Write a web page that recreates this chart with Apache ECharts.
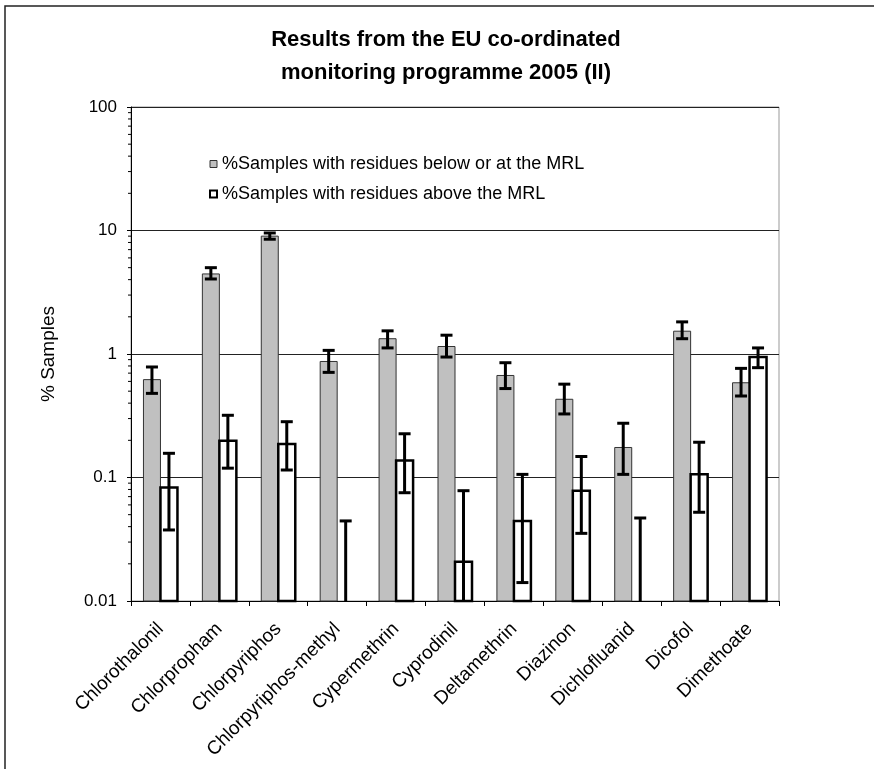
<!DOCTYPE html>
<html>
<head>
<meta charset="utf-8">
<script src="https://cdn.jsdelivr.net/npm/echarts@6/dist/echarts.min.js"></script>
<style>html,body{margin:0;padding:0;background:#fff}#c{width:874px;height:769px}</style>
</head>
<body>
<div id="c"></div>
<script>
var categories = ['Chlorothalonil','Chlorpropham','Chlorpyriphos','Chlorpyriphos-methyl','Cypermethrin','Cyprodinil','Deltamethrin','Diazinon','Dichlofluanid','Dicofol','Dimethoate'];
var seriesNames = ['%Samples with residues below or at the MRL', '%Samples with residues above the MRL'];
var belowMRL     = [0.62, 4.45, 9.0, 0.87, 1.33, 1.15, 0.67, 0.43, 0.175, 1.53, 0.585];
var belowMRLHigh = [0.785, 5.0, 9.55, 1.07, 1.54, 1.42, 0.85, 0.57, 0.275, 1.82, 0.765];
var belowMRLLow  = [0.48, 4.05, 8.5, 0.71, 1.12, 0.945, 0.525, 0.327, 0.106, 1.33, 0.457];
var aboveMRL     = [0.083, 0.198, 0.187, 0, 0.137, 0.0208, 0.0445, 0.078, 0, 0.106, 0.946];
var aboveMRLHigh = [0.157, 0.319, 0.283, 0.0445, 0.226, 0.0782, 0.106, 0.148, 0.047, 0.193, 1.12];
var aboveMRLLow  = [0.0376, 0.119, 0.115, 0, 0.0753, 0, 0.0141, 0.0353, 0, 0.0523, 0.775];
var yTicks = [0.01, 0.1, 1, 10, 100];
var minorTickMultipliers = [2, 3, 4, 5, 6, 7, 8, 9];

var BAR_W = 17;
var FONT = 'Arial, "Liberation Sans", sans-serif';
var chart = echarts.init(document.getElementById('c'), null, {renderer: 'canvas'});

function errData(low, high) {
  return categories.map(function (c, i) { return [i, low[i], high[i]]; });
}
function barData(vals) {
  return categories.map(function (c, i) { return [i, vals[i]]; });
}
function makeBar(offsetSign, style) {
  return function (params, api) {
    var idx = api.value(0);
    var v = api.value(1);
    if (!(v > yTicks[0])) return null;
    var top = api.coord([idx, v]);
    var base = api.coord([idx, yTicks[0]]);
    var cx = top[0] + offsetSign * BAR_W / 2;
    return {type: 'rect', shape: {x: cx - BAR_W / 2, y: top[1], width: BAR_W, height: base[1] - top[1]}, style: style};
  };
}
function makeErr(offsetSign) {
  return function (params, api) {
    var idx = api.value(0);
    var lo = api.value(1);
    var hi = api.value(2);
    var yMin = yTicks[0];
    var off = offsetSign * BAR_W / 2;
    var pHi = api.coord([idx, hi]);
    var loClamped = lo > yMin ? lo : yMin;
    var pLo = api.coord([idx, loClamped]);
    var x = pHi[0] + off;
    var cap = 6;
    var style = {stroke: '#000', lineWidth: 3};
    var children = [
      {type: 'line', shape: {x1: x, y1: pHi[1], x2: x, y2: pLo[1]}, style: style},
      {type: 'line', shape: {x1: x - cap, y1: pHi[1], x2: x + cap, y2: pHi[1]}, style: style}
    ];
    if (lo > yMin) {
      children.push({type: 'line', shape: {x1: x - cap, y1: pLo[1], x2: x + cap, y2: pLo[1]}, style: style});
    }
    return {type: 'group', children: children};
  };
}
function minorTickData() {
  var out = [];
  for (var i = 0; i < yTicks.length - 1; i++) {
    for (var j = 0; j < minorTickMultipliers.length; j++) out.push([0, yTicks[i] * minorTickMultipliers[j]]);
  }
  return out;
}
function renderMinorTick(params, api) {
  var p = api.coord([0, api.value(1)]);
  var half = api.size([1, 0])[0] / 2;
  var x = p[0] - half;
  return {type: 'line', shape: {x1: x - 3, y1: p[1], x2: x, y2: p[1]}, style: {stroke: '#000', lineWidth: 1}};
}

var grayStyle = {fill: '#c0c0c0', stroke: '#333', lineWidth: 1};
var whiteStyle = {fill: '#fff', stroke: '#000', lineWidth: 2.5};

var option = {
  animation: false,
  backgroundColor: '#fff',
  textStyle: {fontFamily: FONT},
  grid: {left: 131, right: 95, top: 107, bottom: 168, show: true, borderColor: '#999', borderWidth: 1},
  graphic: [
    {type: 'rect', z: -10, shape: {x: 5, y: 6, width: 900, height: 800}, style: {fill: 'none', stroke: '#222', lineWidth: 1.5}},
    {type: 'text', x: 446, y: 23, style: {text: 'Results from the EU co-ordinated\nmonitoring programme 2005 (II)', textAlign: 'center', font: 'bold 22px ' + FONT, lineHeight: 33, fill: '#000'}}
  ],
  legend: {
    orient: 'vertical', left: 204, top: 150, itemWidth: 7, itemHeight: 7, itemGap: 12, icon: 'rect',
    textStyle: {fontSize: 18, color: '#000', fontFamily: FONT},
    data: [
      {name: seriesNames[0], itemStyle: {color: '#c0c0c0', borderColor: '#333', borderWidth: 1}},
      {name: seriesNames[1], itemStyle: {color: '#fff', borderColor: '#000', borderWidth: 2}}
    ]
  },
  xAxis: {
    type: 'category', data: categories, boundaryGap: true,
    axisLine: {lineStyle: {color: '#000', width: 1}},
    axisTick: {show: true, length: 5, lineStyle: {color: '#000'}},
    axisLabel: {rotate: 45, fontSize: 19, color: '#000', margin: 25, interval: 0, fontFamily: FONT}
  },
  yAxis: {
    type: 'log', logBase: 10, min: 0.01, max: 100,
    name: '% Samples', nameLocation: 'middle', nameGap: 73, nameRotate: 90,
    nameTextStyle: {fontSize: 19, color: '#000', fontFamily: FONT},
    axisLine: {show: true, lineStyle: {color: '#000', width: 1}},
    axisTick: {show: true, length: 4, lineStyle: {color: '#000'}},
    axisLabel: {fontSize: 17, color: '#000', margin: 14, fontFamily: FONT,
      formatter: function (v) { return String(+v.toPrecision(3)); }},
    splitLine: {show: true, lineStyle: {color: '#222', width: 1}}
  },
  series: [
    {name: seriesNames[0], type: 'custom', renderItem: makeBar(-1, grayStyle), z: 2,
      itemStyle: {color: '#c0c0c0', borderColor: '#333', borderWidth: 1},
      encode: {x: 0, y: 1}, data: barData(belowMRL)},
    {name: seriesNames[1], type: 'custom', renderItem: makeBar(1, whiteStyle), z: 2,
      itemStyle: {color: '#fff', borderColor: '#000', borderWidth: 2},
      encode: {x: 0, y: 1}, data: barData(aboveMRL)},
    {type: 'custom', name: 'err1', z: 10, silent: true, renderItem: makeErr(-1),
      encode: {x: 0, y: [1, 2]}, data: errData(belowMRLLow, belowMRLHigh)},
    {type: 'custom', name: 'err2', z: 10, silent: true, renderItem: makeErr(1),
      encode: {x: 0, y: [1, 2]}, data: errData(aboveMRLLow, aboveMRLHigh)},
    {type: 'custom', name: 'minorTicks', z: 10, silent: true, clip: false, renderItem: renderMinorTick,
      encode: {x: 0, y: 1}, data: minorTickData()}
  ]
};
chart.setOption(option);
</script>
</body>
</html>
